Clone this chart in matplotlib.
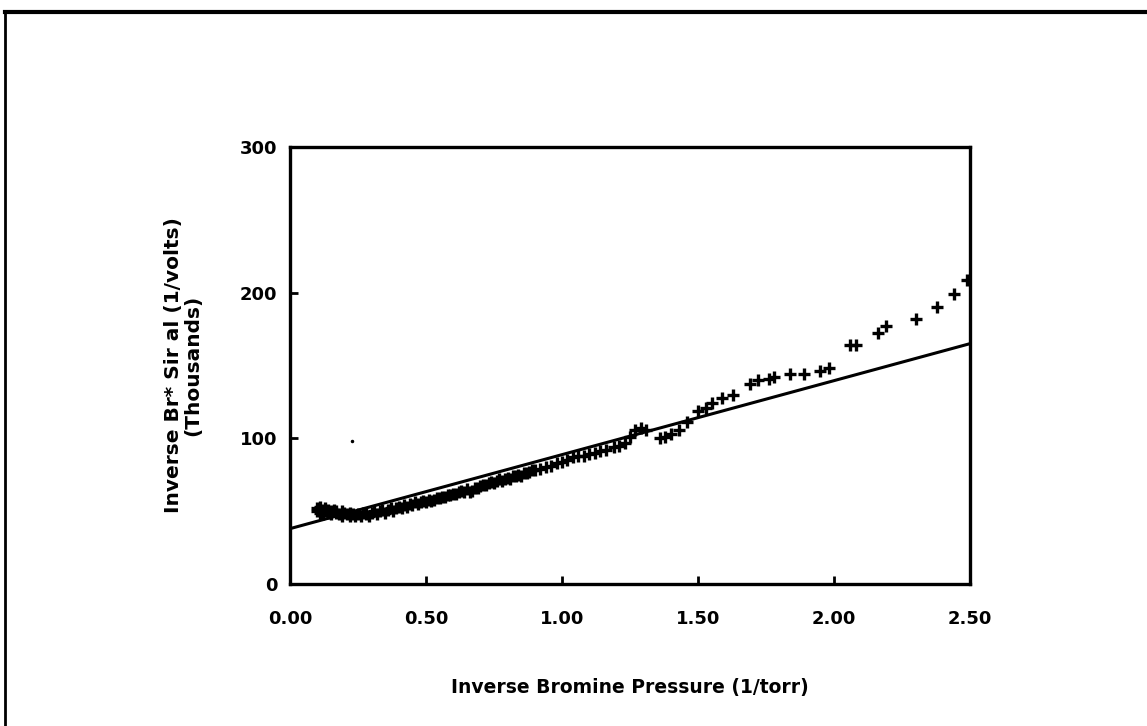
import matplotlib
matplotlib.use("Agg")
import matplotlib.pyplot as plt
from matplotlib.lines import Line2D

# Data
inv_pressure = [
    0.10, 0.10, 0.11, 0.11, 0.12, 0.12, 0.13, 0.13, 0.14, 0.14,
    0.15, 0.15, 0.16, 0.17, 0.17, 0.18, 0.19, 0.19, 0.20, 0.21,
    0.22, 0.22, 0.23, 0.24, 0.25, 0.26, 0.27, 0.28, 0.29, 0.30,
    0.31, 0.32, 0.33, 0.34, 0.35, 0.36, 0.37, 0.38, 0.39, 0.40,
    0.41, 0.42, 0.43, 0.44, 0.45, 0.46, 0.47, 0.48, 0.49, 0.50,
    0.51, 0.52, 0.53, 0.54, 0.55, 0.56, 0.57, 0.58, 0.59, 0.60,
    0.61, 0.62, 0.63, 0.64, 0.65, 0.66, 0.67, 0.68, 0.69, 0.70,
    0.71, 0.72, 0.73, 0.74, 0.75, 0.76, 0.77, 0.78, 0.79, 0.80,
    0.81, 0.82, 0.83, 0.84, 0.85, 0.86, 0.87, 0.88, 0.89, 0.90,
    0.92, 0.94, 0.96, 0.98, 1.00, 1.02, 1.04, 1.06, 1.08, 1.10,
    1.12, 1.14, 1.16, 1.19, 1.21, 1.23, 1.25, 1.27, 1.29, 1.31,
    1.36, 1.38, 1.40, 1.43, 1.46, 1.50, 1.53, 1.55, 1.59, 1.63,
    1.69, 1.72, 1.76, 1.78, 1.84, 1.89, 1.95, 1.98, 2.06, 2.08,
    2.16, 2.19, 2.30, 2.38, 2.44, 2.49,
]
inv_signal = [
    52, 50, 53, 49, 51, 48, 52, 50, 49, 51,
    50, 48, 51, 49, 50, 48, 50, 47, 49, 48,
    47, 49, 48, 47, 48, 47, 49, 48, 47, 49,
    50, 48, 50, 51, 49, 51, 52, 50, 52, 53,
    52, 54, 53, 55, 54, 56, 55, 56, 57, 56,
    58, 57, 58, 59, 59, 60, 60, 61, 61, 62,
    62, 63, 64, 63, 65, 63, 64, 66, 66, 67,
    68, 68, 69, 70, 69, 71, 72, 71, 72, 73,
    72, 74, 74, 75, 74, 76, 76, 77, 78, 78,
    79, 80, 81, 83, 84, 85, 87, 88, 88, 89,
    90, 91, 92, 94, 95, 97, 101, 106, 107, 106,
    100, 101, 103, 106, 111, 119, 121, 124, 128, 130,
    137, 140, 141, 142, 144, 144, 146, 148, 164, 164,
    172, 177, 182, 190, 199, 209,
]
fit_x = [0.0, 2.5]
fit_y = [38, 165]
stray_x = [0.227]
stray_y = [98]

xticks = [0.0, 0.5, 1.0, 1.5, 2.0, 2.5]
xticklabels = ["0.00", "0.50", "1.00", "1.50", "2.00", "2.50"]
yticks = [0, 100, 200, 300]
yticklabels = ["0", "100", "200", "300"]

fig = plt.figure(figsize=(11.47, 7.26), dpi=100)
ax = fig.add_axes([290 / 1147, 1 - 584 / 726, 680 / 1147, 437 / 726])

ax.plot(fit_x, fit_y, color="black", lw=2.2, solid_capstyle="butt", zorder=2)
ax.plot(inv_pressure, inv_signal, linestyle="none", marker="+", markersize=8,
        markeredgewidth=2.4, color="black", zorder=3)
ax.plot(stray_x, stray_y, linestyle="none", marker="o", markersize=1.5,
        color="black")

ax.set_xlim(0, 2.5)
ax.set_ylim(0, 300)
ax.set_xticks(xticks)
ax.set_xticklabels(xticklabels)
ax.set_yticks(yticks)
ax.set_yticklabels(yticklabels)
for s in ax.spines.values():
    s.set_linewidth(2.4)
ax.tick_params(direction="in", length=6, width=2, labelsize=13)
ax.tick_params(axis="x", pad=19)
ax.tick_params(axis="y", pad=9)
for lab in ax.get_xticklabels() + ax.get_yticklabels():
    lab.set_fontweight("bold")
    lab.set_family("DejaVu Sans")

ax.set_xlabel("Inverse Bromine Pressure (1/torr)", fontsize=13.5,
              fontweight="bold", labelpad=36)
ax.set_ylabel("Inverse Br* Sir al (1/volts)\n(Thousands)", fontsize=14.5,
              fontweight="bold", labelpad=27, linespacing=1.05)

# figure frame lines (scan border)
fig.add_artist(Line2D([5 / 1147, 1.0], [1 - 12 / 726, 1 - 12 / 726],
                      transform=fig.transFigure, color="black", lw=3))
fig.add_artist(Line2D([5 / 1147, 5 / 1147], [0.0, 1 - 12 / 726],
                      transform=fig.transFigure, color="black", lw=2))

fig.savefig("out.png", dpi=100)
